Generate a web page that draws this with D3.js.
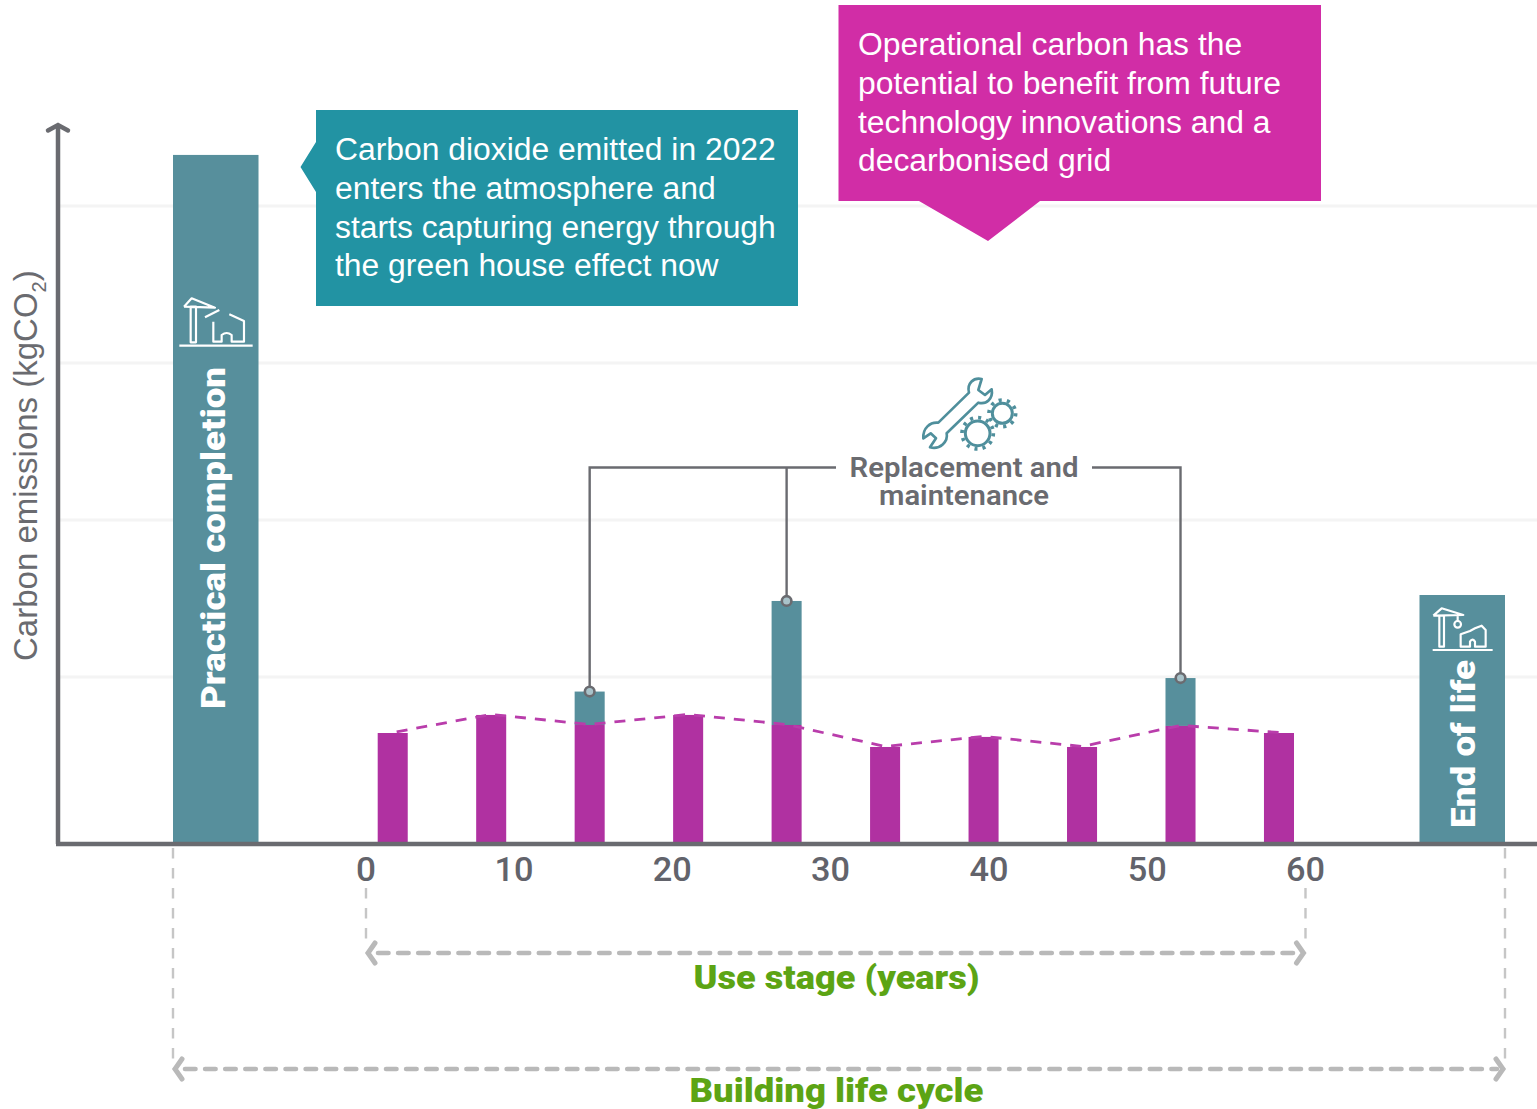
<!DOCTYPE html>
<html><head><meta charset="utf-8">
<script src="https://cdnjs.cloudflare.com/ajax/libs/d3/7.8.5/d3.min.js"></script>
<style>html,body{margin:0;padding:0;background:#fff}svg{display:block}</style></head>
<body><svg id="c" width="1537" height="1109"></svg>
<script>
// ---- data (y units are arbitrary: the axis has no numeric ticks)
const replacementCycles = [1,2,3,4,5,6,7,8,9,10];
const operational = [70.7,82.2,75.8,82.2,75.8,61.8,68.2,61.8,75.2,70.7];
const replacement = [0,0,21.3,0,79,0,0,0,30.5,0];
const stageNames = ["Practical completion","End of life"];
const stageValues = [438.9,158.6];
const gridValues = [106.4,206.4,306.4,406.4];
const yearTicks = [0,10,20,30,40,50,60];
const tealLines = ["Carbon dioxide emitted in 2022","enters the atmosphere and","starts capturing energy through","the green house effect now"];
const pinkLines = ["Operational carbon has the","potential to benefit from future","technology innovations and a","decarbonised grid"];
const calloutCycles = [3,5,9];

const TEAL="#578f9c", MAG="#b031a1", AXIS="#6a6b70", GREY="#b9b9b9", GREEN="#5ca414";
const SANS="'Liberation Sans',Arial,sans-serif", HEAVY="Roboto,sans-serif";
const svg=d3.select("#c");
const y=d3.scaleLinear().domain([0,440]).range([844,153.2]);
const xYear=d3.scaleLinear().domain([0,10,60]).range([366,514,1305.5]);
const xBar=d3.scaleBand().domain(replacementCycles).range([377.7,1294]).paddingInner(0.695).paddingOuter(0);
const xStage=d3.scaleBand().domain(stageNames).range([173,1505]).paddingInner(0.9314).paddingOuter(0);
const cx=d=>xBar(d)+xBar.bandwidth()/2;
const fit=(sel,w)=>sel.attr("textLength",w).attr("lengthAdjust","spacingAndGlyphs");

// grid
svg.append("g").selectAll("line").data(gridValues).join("line")
 .attr("x1",60).attr("x2",1537).attr("y1",d=>y(d)).attr("y2",d=>y(d))
 .attr("stroke","#f4f4f4").attr("stroke-width",3);

// lifecycle guides
const vGuides=[[xStage(stageNames[0]),848,1066],[1505,848,1066],[xYear(0),888,948],[xYear(60),888,948]];
svg.append("g").selectAll("line").data(vGuides).join("line")
 .attr("x1",d=>d[0]).attr("x2",d=>d[0]).attr("y1",d=>d[1]).attr("y2",d=>d[2])
 .attr("stroke","#c6c6c6").attr("stroke-width",2.4).attr("stroke-dasharray","10.5,9.5");
function spanArrow(x1,x2,yy){
 const g=svg.append("g").attr("fill","none").attr("stroke",GREY).attr("stroke-width",4.6).attr("stroke-linecap","round");
 g.append("line").attr("x1",x1+12).attr("x2",x2-8).attr("y1",yy).attr("y2",yy).attr("stroke-dasharray","10.5,9.6");
 g.append("path").attr("d",`M${x1+9} ${yy-10}L${x1+2} ${yy}L${x1+9} ${yy+10}`).attr("stroke-width",5);
 g.append("path").attr("d",`M${x2-9} ${yy-10}L${x2-2} ${yy}L${x2-9} ${yy+10}`).attr("stroke-width",5);
}
spanArrow(xYear(0),xYear(60),953);
spanArrow(173,1505,1069);

// stage bars
svg.append("g").selectAll("rect").data(stageNames).join("rect")
 .attr("x",d=>xStage(d)).attr("width",xStage.bandwidth())
 .attr("y",(d,i)=>y(stageValues[i])).attr("height",(d,i)=>y(0)-y(stageValues[i])).attr("fill",TEAL);

// replacement + operational bars (stacked)
svg.append("g").selectAll("rect").data(replacementCycles).join("rect")
 .attr("x",d=>xBar(d)).attr("width",xBar.bandwidth())
 .attr("y",(d,i)=>y(operational[i]+replacement[i])).attr("height",(d,i)=>y(operational[i])-y(operational[i]+replacement[i]))
 .attr("fill",TEAL);
svg.append("g").selectAll("rect").data(replacementCycles).join("rect")
 .attr("x",d=>xBar(d)).attr("width",xBar.bandwidth())
 .attr("y",(d,i)=>y(operational[i])).attr("height",(d,i)=>y(0)-y(operational[i]))
 .attr("fill",MAG);
// dashed operational trend
svg.append("path").attr("fill","none").attr("stroke","#b93dab").attr("stroke-width",2.8)
 .attr("stroke-dasharray","11,9").attr("stroke-dashoffset",-4)
 .attr("d",d3.line().x(d=>cx(d)).y((d,i)=>y(operational[i])-0.5)(replacementCycles));

// axes
svg.append("path").attr("fill","none").attr("stroke",AXIS).attr("stroke-width",4.5)
 .attr("d","M58 844V127");
svg.append("path").attr("fill","none").attr("stroke",AXIS).attr("stroke-width",4.5).attr("stroke-linecap","round")
 .attr("d","M48 130.5L58 125L68 130.5");
svg.append("line").attr("x1",56).attr("x2",1537).attr("y1",844).attr("y2",844).attr("stroke",AXIS).attr("stroke-width",4.5);

// year tick labels
svg.append("g").selectAll("text").data(yearTicks).join("text")
 .attr("x",d=>xYear(d)).attr("y",881).attr("text-anchor","middle")
 .attr("font-family",HEAVY).attr("font-size",33).attr("font-weight",500).attr("fill","#62636b")
 .attr("textLength",d=>d===0?20:39).attr("lengthAdjust","spacingAndGlyphs").text(d=>d);

// y title
const yt=svg.append("text").attr("transform","translate(37,661) rotate(-90)")
 .attr("font-family",SANS).attr("font-size",33).attr("fill","#6a6b70");
yt.append("tspan").text("Carbon emissions (kgCO");
yt.append("tspan").attr("font-size",20).attr("dy",9).text("2");
yt.append("tspan").attr("dy",-9).text(")");

// rotated stage labels
fit(svg.append("text").attr("transform","translate(225,709) rotate(-90)")
 .attr("font-family",HEAVY).attr("font-weight",900).attr("font-size",32.5).attr("fill","#fff"),342).text(stageNames[0]);
fit(svg.append("text").attr("transform","translate(1475,828) rotate(-90)")
 .attr("font-family",HEAVY).attr("font-weight",900).attr("font-size",32.5).attr("fill","#fff"),168).text(stageNames[1]);

// green labels
fit(svg.append("text").attr("x",836.5).attr("y",989).attr("text-anchor","middle").attr("font-family",HEAVY)
 .attr("font-weight",900).attr("font-size",33).attr("fill",GREEN),286).text("Use stage (years)");
fit(svg.append("text").attr("x",836.5).attr("y",1102).attr("text-anchor","middle").attr("font-family",HEAVY)
 .attr("font-weight",900).attr("font-size",33).attr("fill",GREEN),294).text("Building life cycle");

// callout boxes
svg.append("path").attr("fill","#2293a3").attr("d","M316 110H798V306H316V192L300.5 167L316 142Z");
svg.append("g").selectAll("text").data(tealLines).join("text")
 .attr("x",335).attr("y",(d,i)=>160+i*38.8).attr("font-family",SANS).attr("font-size",31.85).attr("fill","#fff").text(d=>d);
svg.append("path").attr("fill","#d12da6").attr("d","M838.5 5H1321V201H1040L988 241L919 201H838.5Z");
svg.append("g").selectAll("text").data(pinkLines).join("text")
 .attr("x",858).attr("y",(d,i)=>55+i*38.8).attr("font-family",SANS).attr("font-size",31.85).attr("fill","#fff").text(d=>d);

// replacement connectors
const L=svg.append("g").attr("fill","none").attr("stroke",AXIS).attr("stroke-width",2.4);
const topOf=c=>{const i=replacementCycles.indexOf(c);return y(operational[i]+replacement[i]);};
L.append("path").attr("d",`M836 467.5H${cx(3)}V${topOf(3)}`);
L.append("path").attr("d",`M${cx(5)} 467.5V${topOf(5)}`);
L.append("path").attr("d",`M1092 467.5H${cx(9)}V${topOf(9)}`);
svg.append("g").selectAll("circle").data(calloutCycles).join("circle")
 .attr("cx",cx).attr("cy",topOf).attr("r",4.8).attr("fill","#a9c3ca").attr("stroke",AXIS).attr("stroke-width",2.6);
const repl=[["Replacement and",229],["maintenance",170]];
svg.append("g").selectAll("text").data(repl).join("text")
 .attr("x",964).attr("y",(d,i)=>477+i*28).attr("text-anchor","middle").attr("font-family",HEAVY)
 .attr("font-weight",600).attr("font-size",27).attr("fill","#6a6b70")
 .attr("textLength",d=>d[1]).attr("lengthAdjust","spacingAndGlyphs").text(d=>d[0]);

// icons
const ic=svg.append("g").attr("transform","translate(910,370) scale(0.3333)").attr("fill","none").attr("stroke","#4f8f9c");
ic.append("path").attr("stroke-width",8).attr("stroke-linejoin","round")
 .attr("d","M215 27C190 22 170 40 177 68L85 158C60 155 38 175 40 205L62 190L78 205L60 232C90 240 115 215 110 190L205 98C230 105 250 85 245 58L225 75L205 60Z");
[[203,190,37,12],[277,130,30,10]].forEach(([a,b,r,n])=>{
 ic.append("circle").attr("cx",a).attr("cy",b).attr("r",r).attr("stroke-width",9);
 const R=r+10,c=2*Math.PI*R;
 ic.append("circle").attr("cx",a).attr("cy",b).attr("r",R).attr("stroke-width",11).attr("stroke-dasharray",`${c/n*0.38},${c/n*0.62}`);
});
const c1=svg.append("g").attr("transform","translate(170,285) scale(0.3333)").attr("fill","none").attr("stroke","#fff").attr("stroke-width",6.5).attr("stroke-linejoin","round");
c1.append("path").attr("d","M28 182H248");
c1.append("path").attr("d","M62 172V65H78V172ZM42 65L65 40L135 68L42 65M105 97L148 75");
c1.append("path").attr("d","M130 110V170H155V150Q170 138 185 150V170H222V108L178 88");
const c2=svg.append("g").attr("transform","translate(1420,595) scale(0.3333)").attr("fill","none").attr("stroke","#fff").attr("stroke-width",6.5).attr("stroke-linejoin","round");
c2.append("path").attr("d","M38 165H218");
c2.append("path").attr("d","M58 155V62H72V155ZM40 62L65 40L130 60L40 62M113 60V78");
c2.append("circle").attr("cx",113).attr("cy",88).attr("r",10);
c2.append("path").attr("d","M122 155V118L150 108L165 100L185 92L197 105V155H165V140Q157 128 150 140V155Z");
</script></body></html>
